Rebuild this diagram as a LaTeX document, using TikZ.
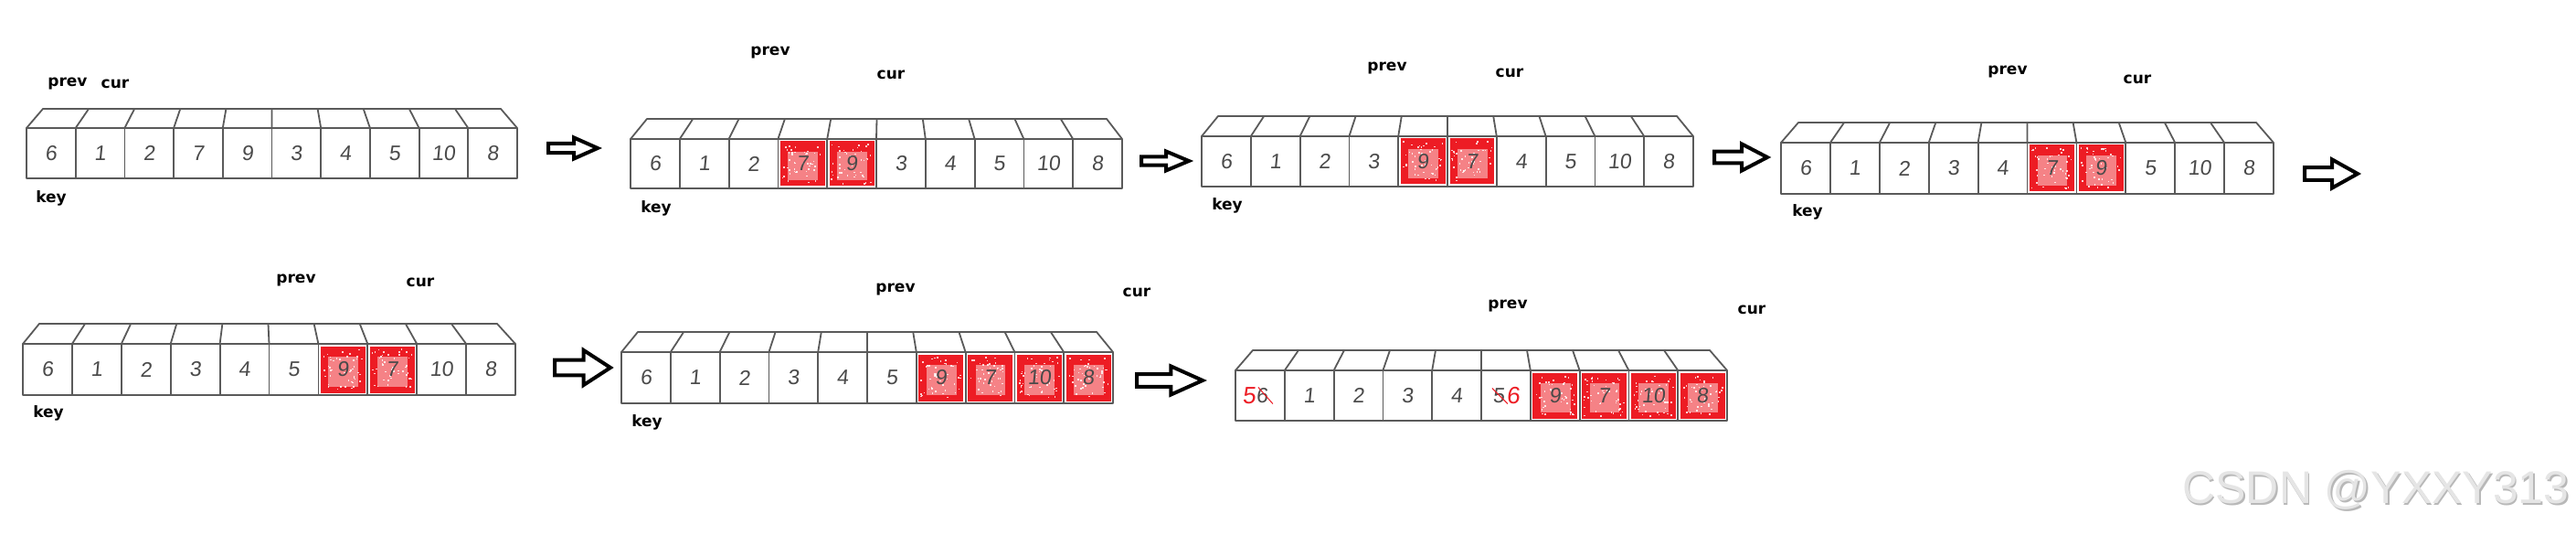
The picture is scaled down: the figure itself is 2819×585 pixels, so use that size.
\documentclass[tikz,border=0pt]{standalone}
\usepackage{fontspec}
\setmainfont{Liberation Sans}
\newfontfamily\labelfont{DejaVu Sans}
\newfontfamily\digitfont[FakeSlant=0.1]{Liberation Sans}
\definecolor{edgec}{HTML}{5A5A5A}
\definecolor{redc}{HTML}{ED1C24}
\definecolor{digc}{HTML}{4A4A4A}
\tikzset{
  edge/.style={draw=edgec, line width=1.8pt, line join=round},
  cellbox/.style={edge, rectangle, inner sep=0pt, outer sep=0pt},
  lbl/.style={font=\labelfont\bfseries\fontsize{17}{17}\selectfont, text=black, inner sep=0pt},
  dig/.style={font=\digitfont\fontsize{23}{23}\selectfont, text=digc, inner sep=0pt},
  reddig/.style={font=\digitfont\fontsize{26}{26}\selectfont, text=redc, inner sep=0pt},
  strike/.style={draw=redc, line width=1pt},
  bigarrow/.style={draw=black, fill=white, line width=4pt, line join=miter},
  wmark/.style={font=\fontsize{50}{50}\selectfont, inner sep=0pt}
}
% #1 name, #2 xl, #3 xr, #4 front top, #5 bottom, #6 top face y, #7 top-left x, #8 top-right x
\newcommand{\drawcells}[8]{%
  \pgfmathsetmacro\cwid{(#3-#2)/10}%
  \pgfmathsetmacro\twid{(#8-#7)/10}%
  \pgfmathsetmacro\chgt{#5-#4}%
  \draw[edge] (#2,#4) -- (#7,#6) -- (#8,#6) -- (#3,#4);
  \foreach \i in {0,...,9}{%
    \node[cellbox, minimum width=\cwid pt, minimum height=\chgt pt, anchor=north west] (#1c\i) at ({#2+\i*\cwid},#4) {};
  }
  \foreach \i in {1,...,9}{%
    \draw[edge] (#1c\i.north west) -- ({#7+\i*\twid},#6);
  }
}
\newcommand{\redcell}[1]{%
  \fill[redc] ([shift={(2.5,2.5)}]#1.north west) rectangle ([shift={(-2.5,-2.5)}]#1.south east);
  \fill[white, opacity=0.45] ([shift={(11,14)}]#1.north west) rectangle ([shift={(-10,-9)}]#1.south east);
  \foreach \q in {1,...,45}{%
    \pgfmathsetmacro\rx{4+rnd*44}%
    \pgfmathsetmacro\ry{5+rnd*44}%
    \fill[white, opacity=0.8] ([shift={(\rx,\ry)}]#1.north west) rectangle ++(1.6,1.6);
  }
}
% #1 name, #2 x0, #3 x1, #4 yc, #5 height
\newcommand{\blockarrow}[5]{%
  \pgfmathsetmacro\xmid{#2+0.52*(#3-#2)}%
  \pgfmathsetmacro\shh{0.22*#5}%
  \pgfmathsetmacro\hhh{0.5*#5}%
  \coordinate (#1s) at (#2,#4);
  \coordinate (#1e) at (#3,#4);
  \draw[bigarrow] ([shift={(0,-\shh)}]#1s) -- (\xmid,#4-\shh) -- (\xmid,#4-\hhh) -- (#1e) -- (\xmid,#4+\hhh) -- (\xmid,#4+\shh) -- ([shift={(0,\shh)}]#1s) -- cycle;
}
\begin{document}
\begin{tikzpicture}[x=1pt,y=-1pt]
\pgfmathsetseed{11}
\fill[white] (0,0) rectangle (2819,585);
\useasboundingbox (0,0) rectangle (2819,585);

% ---------- array 1
\drawcells{a}{29}{566}{140}{195}{119}{47}{548}
\foreach \d [count=\k from 0] in {6,1,2,7,9,3,4,5,10,8} \node[dig] at (ac\k) {\d};
\node[lbl] (ap) at (74,92) {prev};
\node[lbl] (acur) at (126,92) {cur};
\node[lbl] (ak) at (56,217) {key};
\blockarrow{r1}{600}{654}{162}{23}

% ---------- array 2
\drawcells{b}{690}{1228}{152}{206}{130}{708}{1211}
\redcell{bc3}\redcell{bc4}
\foreach \d [count=\k from 0] in {6,1,2,7,9,3,4,5,10,8} \node[dig] at (bc\k) {\d};
\node[lbl] (bp) at (843,58) {prev};
\node[lbl] (bcur) at (975,82) {cur};
\node[lbl] (bk) at (718,228) {key};
\blockarrow{r2}{1249}{1301}{176}{21}

% ---------- array 3
\drawcells{c}{1315}{1853}{149}{204}{127}{1333}{1835}
\redcell{cc4}\redcell{cc5}
\foreach \d [count=\k from 0] in {6,1,2,3,9,7,4,5,10,8} \node[dig] at (cc\k) {\d};
\node[lbl] (cp) at (1518,75) {prev};
\node[lbl] (ccur) at (1652,80) {cur};
\node[lbl] (ck) at (1343,225) {key};
\blockarrow{r3}{1876}{1934}{172}{29}

% ---------- array 4
\drawcells{d}{1949}{2488}{156}{212}{134}{1968}{2469}
\redcell{dc5}\redcell{dc6}
\foreach \d [count=\k from 0] in {6,1,2,3,4,7,9,5,10,8} \node[dig] at (dc\k) {\d};
\node[lbl] (dp) at (2197,79) {prev};
\node[lbl] (dcur) at (2339,87) {cur};
\node[lbl] (dk) at (1978,232) {key};
\blockarrow{r4}{2522}{2580}{190}{31}

% ---------- array 5
\drawcells{e}{25}{564}{376}{432}{354}{43}{544}
\redcell{ec6}\redcell{ec7}
\foreach \d [count=\k from 0] in {6,1,2,3,4,5,9,7,10,8} \node[dig] at (ec\k) {\d};
\node[lbl] (ep) at (324,307) {prev};
\node[lbl] (ecur) at (460,309) {cur};
\node[lbl] (ek) at (53,452) {key};
\blockarrow{r5}{607}{668}{402}{38}

% ---------- array 6
\drawcells{f}{680}{1218}{385}{441}{363}{698}{1200}
\redcell{fc6}\redcell{fc7}\redcell{fc8}\redcell{fc9}
\foreach \d [count=\k from 0] in {6,1,2,3,4,5,9,7,10,8} \node[dig] at (fc\k) {\d};
\node[lbl] (fp) at (980,317) {prev};
\node[lbl] (fcur) at (1244,320) {cur};
\node[lbl] (fk) at (708,462) {key};
\blockarrow{r6}{1244}{1316}{416}{31}

% ---------- array 7
\drawcells{g}{1352}{1890}{405}{460}{383}{1371}{1871}
\redcell{gc6}\redcell{gc7}\redcell{gc8}\redcell{gc9}
\foreach \d [count=\k from 1] in {1,2,3,4} \node[dig] at (gc\k) {\d};
\foreach \d [count=\k from 6] in {9,7,10,8} \node[dig] at (gc\k) {\d};
\node[reddig] (g0a) at ([xshift=-12pt]gc0.center) {5};
\node[dig] (g0b) at ([xshift=2pt]gc0.center) {6};
\draw[strike] ([shift={(-4,-9)}]g0b.center) -- ([shift={(12,9)}]g0b.center);
\node[dig] (g5a) at ([xshift=-8pt]gc5.center) {5};
\node[reddig] (g5b) at ([xshift=8pt]gc5.center) {6};
\draw[strike] ([shift={(-7,-8)}]g5a.center) -- ([shift={(10,9)}]g5a.center);
\node[lbl] (gp) at (1650,335) {prev};
\node[lbl] (gcur) at (1917,339) {cur};

% ---------- watermark
\node[wmark, text=black!28] at (2601.5,537.5) {CSDN @YXXY313};
\node[wmark, text=black!10] (wm) at (2600,536) {CSDN @YXXY313};
\end{tikzpicture}
\end{document}
